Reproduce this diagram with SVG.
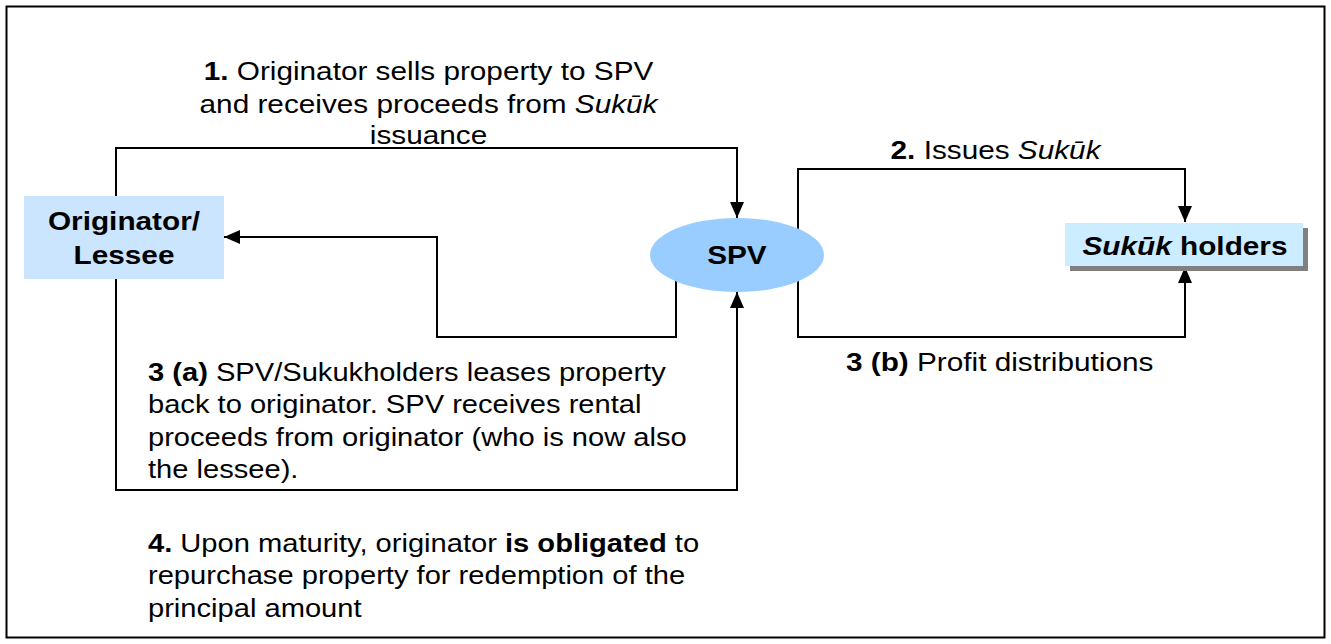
<svg xmlns="http://www.w3.org/2000/svg" width="1331" height="644" viewBox="0 0 1331 644">
<defs>
<marker id="ah" markerUnits="userSpaceOnUse" markerWidth="16" markerHeight="16" viewBox="0 0 16 16" refX="16" refY="8" orient="auto">
<path d="M0,1 L16,8 L0,15 Z" fill="#000"/>
</marker>
<style>
.c{fill:none;stroke:#000;stroke-width:2}
.t{font-family:"Liberation Sans",Arial,sans-serif;font-size:25px;fill:#000}
.n{font-family:"Liberation Sans",Arial,sans-serif;font-size:25px;font-weight:bold;fill:#000}
</style>
</defs>
<rect x="0" y="0" width="1331" height="644" fill="#fff"/>
<rect x="6.5" y="6.5" width="1318" height="631" fill="none" stroke="#000" stroke-width="2"/>
<g id="connectors">
<polyline class="c" points="116,196 116,148 737,148 737,218" marker-end="url(#ah)"/>
<polyline class="c" points="676,270 676,337 437,337 437,237 224,237" marker-end="url(#ah)"/>
<polyline class="c" points="116,279 116,490 737,490 737,292" marker-end="url(#ah)"/>
<polyline class="c" points="798,240 798,169 1185,169 1185,222" marker-end="url(#ah)"/>
<polyline class="c" points="798,270 798,337 1185,337 1185,267" marker-end="url(#ah)"/>
</g>
<g id="originator">
<rect x="24" y="196" width="200" height="83" fill="#CCE5FF"/>
<g transform="scale(1.19,1)">
<text class="n" x="104.2" y="230" text-anchor="middle">Originator/</text>
<text class="n" x="104.2" y="264" text-anchor="middle">Lessee</text>
</g>
</g>
<g id="spv">
<ellipse cx="737" cy="255" rx="87" ry="37" fill="#99CCFF"/>
<text class="n" x="619.3" y="264" text-anchor="middle" transform="scale(1.19,1)">SPV</text>
</g>
<g id="sukuk-holders">
<rect x="1070" y="228" width="238" height="43" fill="#808080"/>
<rect x="1065" y="223" width="238" height="43" fill="#CCECFF"/>
<text class="n" x="995.8" y="255" text-anchor="middle" transform="scale(1.19,1)"><tspan font-style="italic">Sukūk</tspan> holders</text>
</g>
<g id="labels-top" transform="scale(1.19,1)">
<text class="t" x="360.1" y="80" text-anchor="middle"><tspan font-weight="bold">1.</tspan> Originator sells property to SPV</text>
<text class="t" x="360.1" y="113" text-anchor="middle">and receives proceeds from <tspan font-style="italic">Sukūk</tspan></text>
<text class="t" x="360.1" y="144" text-anchor="middle">issuance</text>
<text class="t" x="836.6" y="159" text-anchor="middle"><tspan font-weight="bold">2.</tspan> Issues <tspan font-style="italic">Sukūk</tspan></text>
<text class="t" x="710.9" y="371"><tspan font-weight="bold">3 (b)</tspan> Profit distributions</text>
</g>
<g id="labels-bottom" transform="scale(1.165,1)">
<text class="t" x="127.04" y="381"><tspan font-weight="bold">3 (a)</tspan> SPV/Sukukholders leases property</text>
<text class="t" x="127.04" y="413">back to originator. SPV receives rental</text>
<text class="t" x="127.04" y="446">proceeds from originator (who is now also</text>
<text class="t" x="127.04" y="478">the lessee).</text>
<text class="t" x="127.04" y="552"><tspan font-weight="bold">4.</tspan> Upon maturity, originator <tspan font-weight="bold">is obligated</tspan> to</text>
<text class="t" x="127.04" y="584">repurchase property for redemption of the</text>
<text class="t" x="127.04" y="617">principal amount</text>
</g>
</svg>
